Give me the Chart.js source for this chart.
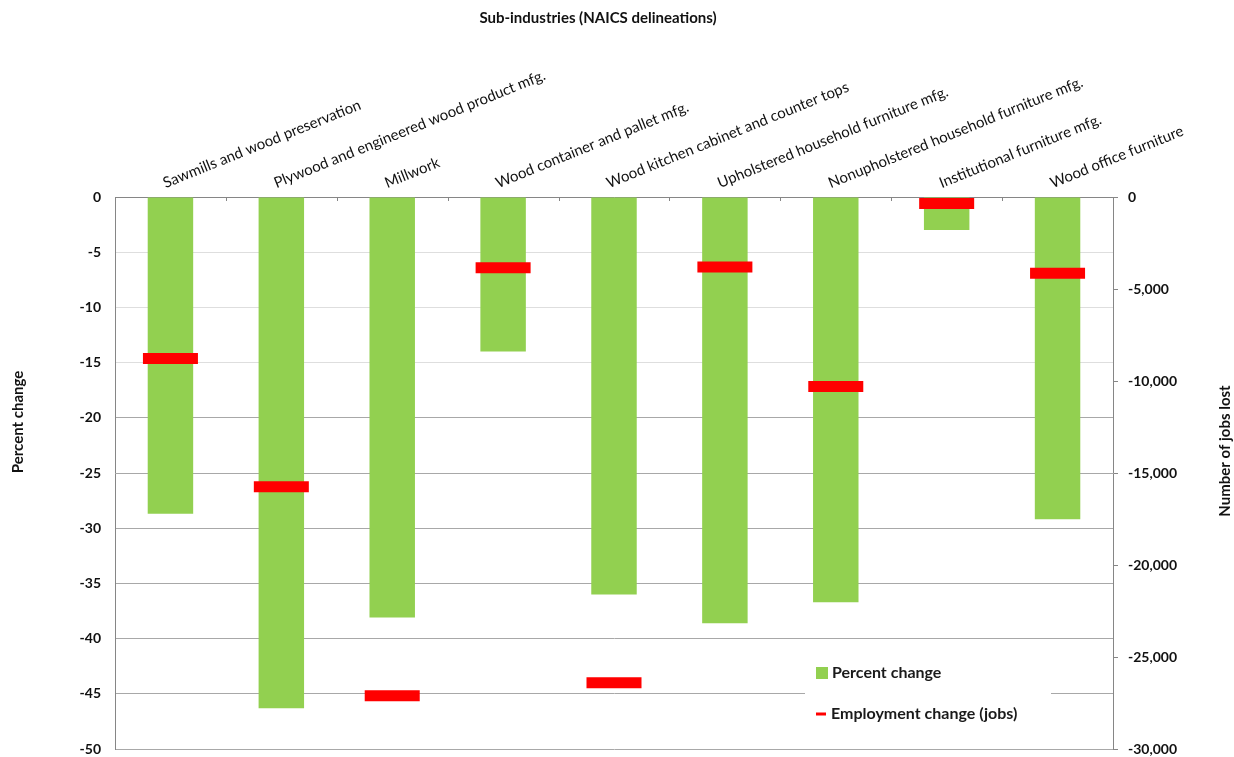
<!DOCTYPE html>
<html>
<head>
<meta charset="utf-8">
<script src="https://cdn.jsdelivr.net/npm/chart.js@4"></script>
<style>
  html, body { margin: 0; padding: 0; background: #fff; overflow: hidden; }
  canvas { display: block; }
</style>
</head>
<body>
<canvas id="chart" width="1234" height="757"></canvas>
<script>
// sub-industries (NAICS)
var categories = [
    "Sawmills and wood preservation",
    "Plywood and engineered wood product mfg.",
    "Millwork",
    "Wood container and pallet mfg.",
    "Wood kitchen cabinet and counter tops",
    "Upholstered household furniture mfg.",
    "Nonupholstered household furniture mfg.",
    "Institutional furniture mfg.",
    "Wood office furniture"
];
var percentChange = [-28.7, -46.3, -38.1, -14.0, -36.0, -38.6, -36.7, -3.0, -29.2];
var jobsChange = [-8780, -15750, -27100, -3850, -26400, -3800, -10300, -350, -4140];

var percentTicks = { min: -50, max: 0, step: 5 };
var jobsTicks = { min: -30000, max: 0, step: 5000 };

var FONT = "Lato, 'Open Sans', sans-serif";
var GREEN = "#92d050";
var RED = "#ff0000";
var AXIS = "#868686";

// keep the plot area where we want it
function noPad(s) {
    s.paddingTop = 0;
    s.paddingBottom = 0;
    s.paddingLeft = 0;
    s.paddingRight = 0;
}

// titles + legend drawn by hand (legend sits inside the plot)
var extras = {
    id: "extras",
    afterDraw(chart) {
        const ctx = chart.ctx;
        const area = chart.chartArea;
        const x = chart.scales.x;
        ctx.save();

        // small ticks under the top axis, between categories
        ctx.strokeStyle = AXIS;
        ctx.lineWidth = 1;
        for (let i = 0; i <= categories.length; i++) {
            let px = Math.round(x.getPixelForValue(i - 0.5)) + 0.5;
            ctx.beginPath();
            ctx.moveTo(px, area.top);
            ctx.lineTo(px, area.top + 4);
            ctx.stroke();
        }

        ctx.fillStyle = "#111";
        ctx.textAlign = "center";
        ctx.textBaseline = "middle";
        ctx.font = "bold 15px " + FONT;
        ctx.fillText("Sub-industries (NAICS delineations)", 598, 18);

        ctx.save();
        ctx.translate(18, 422);
        ctx.rotate(-Math.PI / 2);
        ctx.fillText("Percent change", 0, 0);
        ctx.restore();

        ctx.save();
        ctx.translate(1225, 451);
        ctx.rotate(-Math.PI / 2);
        ctx.fillText("Number of jobs lost", 0, 0);
        ctx.restore();

        // legend box
        ctx.fillStyle = "#fff";
        ctx.fillRect(805, 648, 246, 88);
        ctx.font = "bold 16px " + FONT;
        ctx.textAlign = "left";
        ctx.fillStyle = chart.data.datasets[0].backgroundColor;
        ctx.fillRect(816, 667, 12, 12);
        ctx.fillStyle = "#1a1a1a";
        ctx.fillText(chart.data.datasets[0].label, 832, 673);
        ctx.strokeStyle = chart.data.datasets[1].borderColor;
        ctx.lineWidth = 3;
        ctx.beginPath();
        ctx.moveTo(816, 714);
        ctx.lineTo(826, 714);
        ctx.stroke();
        ctx.fillText(chart.data.datasets[1].label, 831, 714);
        ctx.restore();
    }
};

new Chart(document.getElementById("chart"), {
    data: {
        labels: categories,
        datasets: [
            {
                type: "bar",
                label: "Percent change",
                data: percentChange,
                backgroundColor: GREEN,
                yAxisID: "y",
                barPercentage: 0.41,
                categoryPercentage: 1,
                order: 1
            },
            {
                type: "line",
                label: "Employment change (jobs)",
                data: jobsChange,
                yAxisID: "y2",
                showLine: false,
                clip: false,
                pointStyle: "line",
                pointRadius: 27.5,
                pointHoverRadius: 27.5,
                borderColor: RED,
                backgroundColor: RED,
                borderWidth: 11,
                pointBorderWidth: 11,
                order: 0
            }
        ]
    },
    options: {
        responsive: false,
        animation: false,
        layout: { autoPadding: false, padding: { top: 0, left: 0, right: 0, bottom: 8 } },
        plugins: {
            legend: { display: false },
            tooltip: { enabled: false }
        },
        scales: {
            x: {
                position: "top",
                offset: true,
                afterFit: (s) => { s.height = 197; noPad(s); },
                grid: { display: false, drawTicks: false },
                border: { display: true, color: AXIS },
                ticks: {
                    autoSkip: false,
                    minRotation: 22,
                    maxRotation: 22,
                    padding: 5,
                    color: "#111",
                    font: { family: FONT, size: 15 }
                }
            },
            y: {
                position: "left",
                min: percentTicks.min,
                max: percentTicks.max,
                afterFit: (s) => { s.width = 115; noPad(s); },
                border: { display: true, color: AXIS },
                grid: {
                    drawTicks: false,
                    color: (c) => (c.tick && c.tick.value > -17 ? "#dedede" : "#a8a8a8")
                },
                ticks: {
                    stepSize: percentTicks.step,
                    padding: 14,
                    color: "#111",
                    font: { family: FONT, size: 14, weight: "bold" }
                }
            },
            y2: {
                position: "right",
                min: jobsTicks.min,
                max: jobsTicks.max,
                afterFit: (s) => { s.width = 121; noPad(s); },
                border: { display: true, color: AXIS },
                grid: { drawOnChartArea: false, drawTicks: true, tickLength: 5, color: AXIS },
                ticks: {
                    stepSize: jobsTicks.step,
                    padding: 10,
                    color: "#111",
                    font: { family: FONT, size: 14, weight: "bold" },
                    callback: (v) => v.toLocaleString("en-US")
                }
            }
        }
    },
    plugins: [extras]
});
</script>
</body>
</html>
